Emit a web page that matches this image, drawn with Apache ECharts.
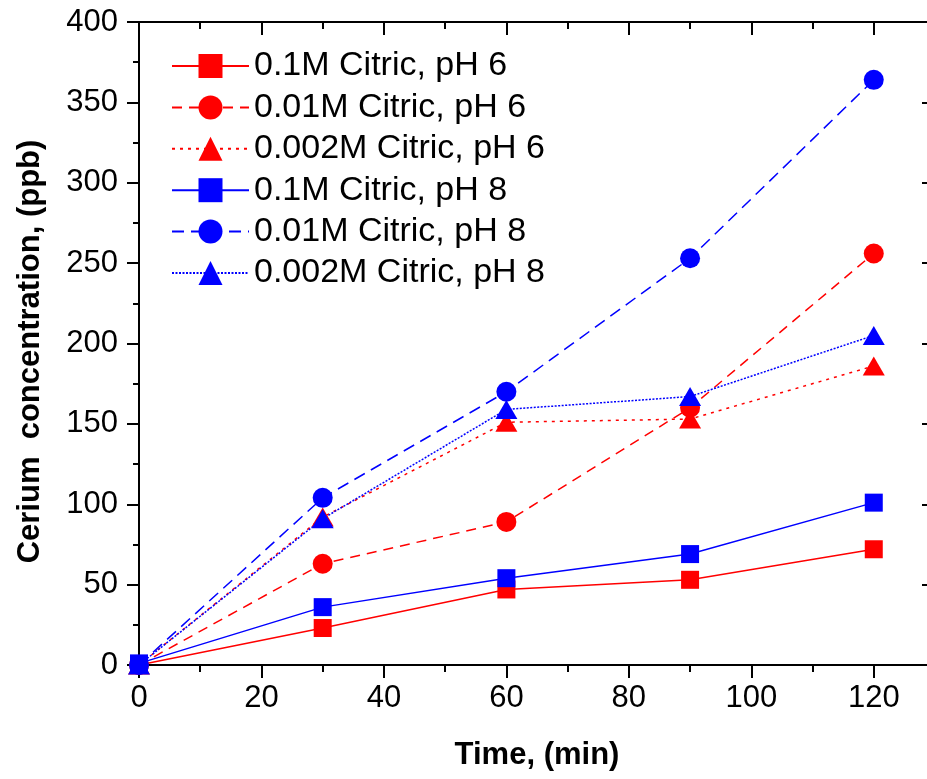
<!DOCTYPE html>
<html>
<head>
<meta charset="utf-8">
<script src="https://cdn.jsdelivr.net/npm/echarts@6/dist/echarts.min.js"></script>
<style>
html,body{margin:0;padding:0;background:#fff;}
#chart{width:927px;height:779px;}
</style>
</head>
<body>
<div id="chart"></div>
<script>
var times = [0, 30, 60, 90, 120];
var names = ['0.1M Citric, pH 6', '0.01M Citric, pH 6', '0.002M Citric, pH 6',
             '0.1M Citric, pH 8', '0.01M Citric, pH 8', '0.002M Citric, pH 8'];
var citric01_pH6  = [0, 23, 47, 53, 72];
var citric001_pH6 = [0, 63, 89, 160, 256];
var citric0002_pH6 = [0, 92, 151, 153, 186];
var citric01_pH8  = [1, 36, 54, 69, 101];
var citric001_pH8 = [0, 104, 170, 253, 364];
var citric0002_pH8 = [0, 91, 159, 167, 205];

var RED = '#ff0000', BLUE = '#0000ff';
var FONT = 'Liberation Sans, Arial, sans-serif';

function pts(vals) { return times.map(function (t, i) { return [t, vals[i]]; }); }

function mk(name, vals, color, symbol, size, lineType, lw) {
  return {
    name: name, type: 'line', data: pts(vals),
    symbol: symbol, symbolSize: size,
    itemStyle: { color: color },
    lineStyle: { color: color, width: lw, type: lineType },
    emphasis: { disabled: true },
    animation: false
  };
}

var series = [
  mk(names[0], citric01_pH6, RED, 'rect', 18, 'solid', 1.5),
  mk(names[1], citric001_pH6, RED, 'circle', 20, [10, 7], 1.5),
  mk(names[2], citric0002_pH6, RED, 'triangle', [22, 19], [3, 5], 1.5),
  mk(names[3], citric01_pH8, BLUE, 'rect', 18, 'solid', 1.5),
  mk(names[4], citric001_pH8, BLUE, 'circle', 20, [12, 7], 1.5),
  mk(names[5], citric0002_pH8, BLUE, 'triangle', [22, 19], [2, 1.5], 1.5)
];

var axisLine = { show: true, onZero: false, lineStyle: { color: '#000', width: 2 } };

var chart = echarts.init(document.getElementById('chart'), null, { renderer: 'canvas' });
chart.setOption({
  backgroundColor: '#fff',
  animation: false,
  grid: { left: 139, top: 22, width: 796, height: 643, containLabel: false, outerBoundsMode: 'none' },
  legend: {
    left: 166, top: 44, orient: 'vertical',
    itemWidth: 77, itemHeight: 30, itemGap: 7.4,
    textStyle: { fontFamily: FONT, fontSize: 34, color: '#000' },
    data: names
  },
  xAxis: [
    {
      type: 'value', position: 'bottom', min: 0, max: 130, interval: 20,
      axisLine: axisLine,
      axisTick: { show: true, inside: false, length: 13, lineStyle: { color: '#000', width: 2 } },
      minorTick: { show: true, splitNumber: 2, length: 7, lineStyle: { color: '#000', width: 2 } },
      splitLine: { show: false },
      axisLabel: { showMaxLabel: false, margin: 18, fontFamily: FONT, fontSize: 31, color: '#000' },
      name: 'Time, (min)', nameLocation: 'middle', nameGap: 75,
      nameTextStyle: { fontFamily: FONT, fontSize: 31, fontWeight: 'bold', color: '#000' }
    },
    {
      type: 'value', position: 'top', min: 0, max: 130, interval: 20,
      axisLine: axisLine,
      axisTick: { show: true, inside: true, length: 13, lineStyle: { color: '#000', width: 2 } },
      minorTick: { show: true, splitNumber: 2, length: 7, lineStyle: { color: '#000', width: 2 } },
      splitLine: { show: false },
      axisLabel: { show: false }
    }
  ],
  yAxis: [
    {
      type: 'value', position: 'left', min: 0, max: 400, interval: 50,
      axisLine: axisLine,
      axisTick: { show: true, inside: false, length: 12, lineStyle: { color: '#000', width: 2 } },
      minorTick: { show: true, splitNumber: 2, length: 6, lineStyle: { color: '#000', width: 2 } },
      splitLine: { show: false },
      axisLabel: { margin: 21, fontFamily: FONT, fontSize: 31, color: '#000' },
      name: 'Cerium  concentration, (ppb)', nameLocation: 'middle', nameGap: 93,
      nameTextStyle: { fontFamily: FONT, fontSize: 31, fontWeight: 'bold', color: '#000', padding: [0, 16, 0, 0] }
    },
    {
      type: 'value', position: 'right', min: 0, max: 400, interval: 50,
      axisLine: axisLine,
      axisTick: { show: true, inside: true, length: 13, lineStyle: { color: '#000', width: 2 } },
      minorTick: { show: true, splitNumber: 2, length: 7, lineStyle: { color: '#000', width: 2 } },
      splitLine: { show: false },
      axisLabel: { show: false }
    }
  ],
  series: series
});
</script>
</body>
</html>
